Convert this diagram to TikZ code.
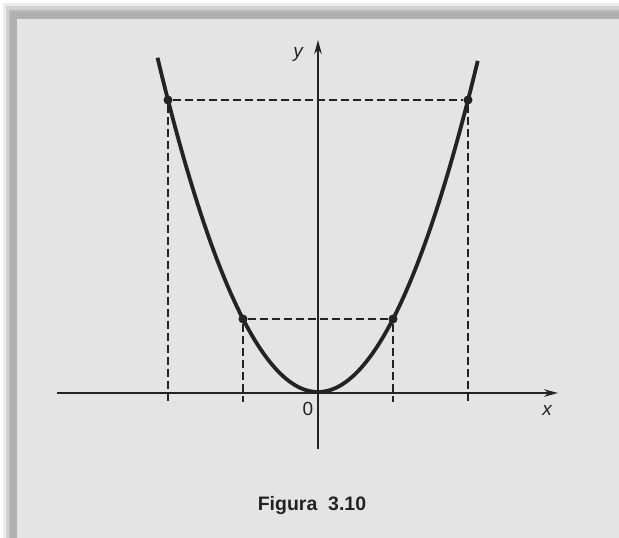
\documentclass[tikz,border=0pt]{standalone}
\usepackage{fontspec}
\setmainfont{Liberation Sans}
\usetikzlibrary{arrows.meta}
\definecolor{paper}{RGB}{228,228,228}
\definecolor{ink}{RGB}{35,35,35}
\tikzset{
  axis/.style={draw=ink, line width=1.9pt, -{Stealth[length=14pt,width=7.5pt]}},
  curve/.style={draw=ink, line width=3.8pt},
  guide/.style={draw=ink, line width=1.6pt, dash pattern=on 8pt off 4pt},
  dot/.style={circle, fill=ink, inner sep=0pt, minimum size=9pt},
  lbl/.style={text=ink, font=\fontsize{19}{21}\selectfont}
}
\begin{document}
\begin{tikzpicture}[x=1pt,y=-1pt]
\useasboundingbox (0,0) rectangle (619,538);
\fill[white] (0,0) rectangle (619,538);
% shadowed frame
\fill[gray!15] (3,3) rectangle (619,538);
\fill[gray!35] (6,6) rectangle (619,538);
\fill[gray!55] (9,10) rectangle (619,538);
\fill[gray!62] (11,12) rectangle (619,538);
\fill[paper] (17,19) rectangle (619,538);
% axes
\coordinate (xs) at (57,393);
\coordinate (xe) at (558,393);
\coordinate (ys) at (318,449);
\coordinate (ye) at (318,40);
\draw[axis] (xs) -- (xe);
\draw[axis] (ys) -- (ye);
% points
\node[dot] (p1) at (168,100) {};
\node[dot] (p2) at (468,100) {};
\node[dot] (p3) at (243,319) {};
\node[dot] (p4) at (393,319) {};
\coordinate (b1) at (168,402);
\coordinate (b2) at (468,402);
\coordinate (b3) at (243,402);
\coordinate (b4) at (393,402);
% guides
\draw[guide] (p1) -- (p2);
\draw[guide] (p3) -- (p4);
\draw[guide] (p1) -- (b1);
\draw[guide] (p2) -- (b2);
\draw[guide] (p3) -- (b3);
\draw[guide] (p4) -- (b4);
% parabola
\draw[curve] plot[domain=-2.14:2.13, samples=80, smooth] ({318+75*\x},{392-73*\x*\x});
% labels
\node[lbl, font=\fontsize{19}{21}\selectfont\itshape] (ly) at (298,54) {y};
\node[lbl, font=\fontsize{19}{21}\selectfont\itshape] (lx) at (547,410) {x};
\node[lbl] (l0) at (308,409) {0};
\node[lbl, font=\fontsize{19.5}{22}\selectfont\bfseries] (cap) at (312,505) {Figura\ \ 3.10};
\end{tikzpicture}
\end{document}
